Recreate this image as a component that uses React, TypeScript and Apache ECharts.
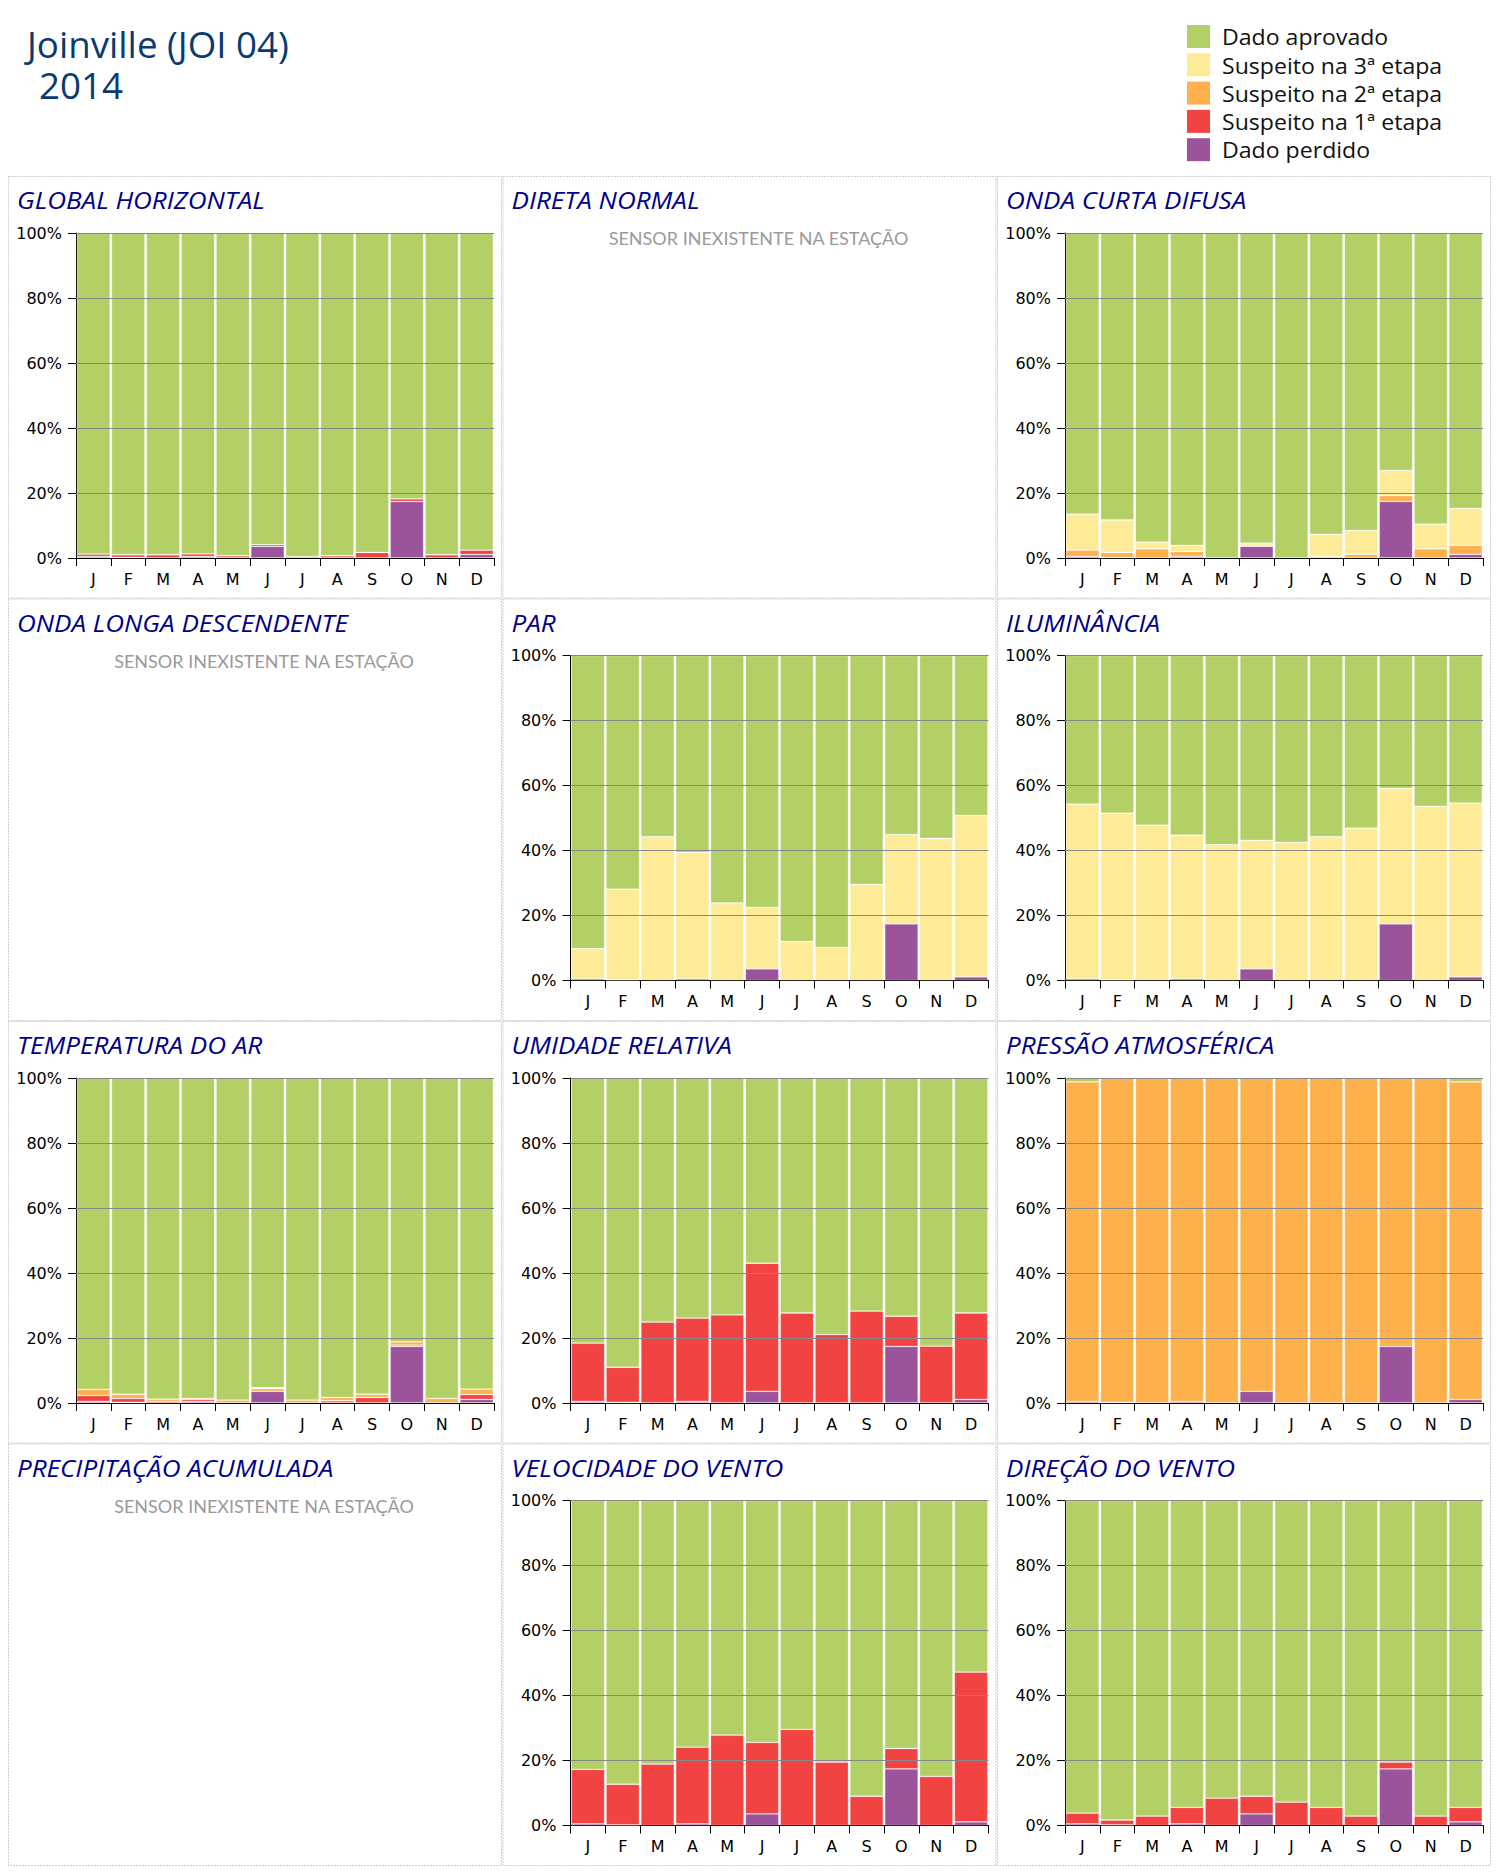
import React, { useEffect, useRef } from "react";
import * as echarts from "echarts";

// ---------- categories / labels ----------
const months = ["J", "F", "M", "A", "M", "J", "J", "A", "S", "O", "N", "D"];
const yTicks = [0, 20, 40, 60, 80, 100];
const seriesNames = [
  "Dado perdido",
  "Suspeito na 1ª etapa",
  "Suspeito na 2ª etapa",
  "Suspeito na 3ª etapa",
  "Dado aprovado",
];
const seriesColors = ["#9b539b", "#f24343", "#feb04d", "#feeb98", "#b2d065"];
const legendOrder = [4, 3, 2, 1, 0];
const mainTitle = "Joinville (JOI 04)";
const yearLabel = "2014";
const noSensorText = "SENSOR INEXISTENTE NA ESTAÇÃO";

// ---------- data (% of month) ----------
const perdido = [0.5, 0.2, 0, 0.5, 0, 3.6, 0, 0, 0, 17.4, 0, 1.1];
const zeros = [0, 0, 0, 0, 0, 0, 0, 0, 0, 0, 0, 0];

const globalS1 = [0.7, 0.8, 1.0, 0.8, 0.7, 0.5, 0.4, 0.7, 1.7, 0.8, 1.0, 1.3];
const globalApr = [98.8, 99.0, 99.0, 98.7, 99.3, 95.9, 99.6, 99.3, 98.3, 81.8, 99.0, 97.6];

const difusaS2 = [1.9, 1.5, 2.8, 1.5, 0, 0.3, 0, 0.5, 1.1, 1.8, 2.8, 2.8];
const difusaS3 = [11.1, 10.0, 2.1, 1.9, 0, 0.7, 0, 6.8, 7.4, 7.7, 7.6, 11.4];
const difusaApr = [86.5, 88.3, 95.1, 96.1, 100, 95.4, 100, 92.7, 91.5, 73.1, 89.6, 84.7];

const parS3 = [9.3, 27.9, 44.3, 38.9, 23.9, 18.9, 12.0, 10.2, 29.6, 27.5, 43.7, 49.7];
const parApr = [90.2, 71.9, 55.7, 60.6, 76.1, 77.5, 88.0, 89.8, 70.4, 55.1, 56.3, 49.2];

const ilumS3 = [53.8, 51.3, 47.8, 44.2, 41.8, 39.5, 42.5, 44.3, 46.9, 41.7, 53.6, 53.5];
const ilumApr = [45.7, 48.5, 52.2, 55.3, 58.2, 56.9, 57.5, 55.7, 53.1, 40.9, 46.4, 45.4];

const tempS1 = [1.8, 1.2, 0.5, 0.6, 0, 0, 0, 0.7, 1.7, 0.4, 0, 1.5];
const tempS2 = [1.9, 1.3, 0.7, 0.3, 0.9, 0.8, 0.9, 1.0, 1.0, 1.0, 1.4, 1.7];
const tempS3 = [0, 0, 0, 0, 0, 0.3, 0, 0, 0, 0, 0, 0];
const tempApr = [95.8, 97.3, 98.8, 98.6, 99.1, 95.3, 99.1, 98.3, 97.3, 81.2, 98.6, 95.7];

const umidS1 = [17.9, 10.8, 24.9, 25.6, 27.1, 39.4, 27.7, 21.1, 28.3, 9.3, 17.5, 26.6];
const umidApr = [81.6, 89.0, 75.1, 73.9, 72.9, 57.0, 72.3, 78.9, 71.7, 73.3, 82.5, 72.3];

const pressS2 = [98.3, 99.8, 100, 99.5, 100, 96.4, 100, 100, 100, 82.6, 100, 97.7];
const pressApr = [1.2, 0, 0, 0, 0, 0, 0, 0, 0, 0, 0, 1.2];

const velS1 = [16.8, 12.5, 18.9, 23.6, 27.8, 22.0, 29.6, 19.5, 9.0, 6.3, 15.1, 46.1];
const velApr = [82.7, 87.3, 81.1, 75.9, 72.2, 74.4, 70.4, 80.5, 91.0, 76.3, 84.9, 52.8];

const dirS1 = [3.3, 1.5, 2.9, 5.1, 8.4, 5.4, 7.2, 5.6, 2.9, 2.1, 2.9, 4.5];
const dirApr = [96.2, 98.3, 97.1, 94.4, 91.6, 91.0, 92.8, 94.4, 97.1, 80.5, 97.1, 94.4];

type Panel = { title: string; row: number; col: number; stacks: number[][] | null };

// stacks order: perdido, 1ª, 2ª, 3ª, aprovado
const panels: Panel[] = [
  { title: "GLOBAL HORIZONTAL", row: 0, col: 0, stacks: [perdido, globalS1, zeros, zeros, globalApr] },
  { title: "DIRETA NORMAL", row: 0, col: 1, stacks: null },
  { title: "ONDA CURTA DIFUSA", row: 0, col: 2, stacks: [perdido, zeros, difusaS2, difusaS3, difusaApr] },
  { title: "ONDA LONGA DESCENDENTE", row: 1, col: 0, stacks: null },
  { title: "PAR", row: 1, col: 1, stacks: [perdido, zeros, zeros, parS3, parApr] },
  { title: "ILUMINÂNCIA", row: 1, col: 2, stacks: [perdido, zeros, zeros, ilumS3, ilumApr] },
  { title: "TEMPERATURA DO AR", row: 2, col: 0, stacks: [perdido, tempS1, tempS2, tempS3, tempApr] },
  { title: "UMIDADE RELATIVA", row: 2, col: 1, stacks: [perdido, umidS1, zeros, zeros, umidApr] },
  { title: "PRESSÃO ATMOSFÉRICA", row: 2, col: 2, stacks: [perdido, zeros, pressS2, zeros, pressApr] },
  { title: "PRECIPITAÇÃO ACUMULADA", row: 3, col: 0, stacks: null },
  { title: "VELOCIDADE DO VENTO", row: 3, col: 1, stacks: [perdido, velS1, zeros, zeros, velApr] },
  { title: "DIREÇÃO DO VENTO", row: 3, col: 2, stacks: [perdido, dirS1, zeros, zeros, dirApr] },
];

// ---------- layout ----------
const W = 1500;
const H = 1874;
const PANEL_X = [8, 502.5, 997];
const PANEL_Y = [176, 598.5, 1021, 1443.5];
const PANEL_W = 493;
const PANEL_H = 421.5;
const GRID_DX = 68;
const GRID_DY = 57;
const GRID_W = 418;
const GRID_H = 325;
const TITLE_FONT = "Open Sans";
const AXIS_FONT = "DejaVu Sans";

function buildOption() {
  const grid: any[] = [];
  const xAxis: any[] = [];
  const yAxis: any[] = [];
  const series: any[] = [];
  const graphic: any[] = [];

  // main title
  graphic.push({
    type: "text",
    x: 27,
    y: 44,
    scaleX: 1.02,
    style: {
      text: mainTitle,
      fontSize: 36,
      fontFamily: TITLE_FONT,
      fill: "#0a3a70",
      textVerticalAlign: "middle",
      verticalAlign: "middle",
    },
  });
  graphic.push({
    type: "text",
    x: 39,
    y: 85.5,
    scaleX: 1.02,
    style: {
      text: yearLabel,
      fontSize: 36,
      fontFamily: TITLE_FONT,
      fill: "#0a3a70",
      textVerticalAlign: "middle",
      verticalAlign: "middle",
    },
  });

  // legend
  legendOrder.forEach((si, i) => {
    const y = 25 + i * 28.3;
    graphic.push({
      type: "rect",
      shape: { x: 1187, y, width: 23, height: 23 },
      style: { fill: seriesColors[si] },
    });
    graphic.push({
      type: "text",
      x: 1222,
      y: y + 12,
      scaleX: 1.05,
      style: {
        text: seriesNames[si],
        fontSize: 22,
        fontFamily: TITLE_FONT,
        fill: "#111111",
        textVerticalAlign: "middle",
        verticalAlign: "middle",
      },
    });
  });

  let gi = 0;
  panels.forEach((p) => {
    const px = PANEL_X[p.col];
    const py = PANEL_Y[p.row];
    graphic.push({
      type: "rect",
      shape: { x: px + 0.5, y: py + 0.5, width: PANEL_W, height: PANEL_H },
      style: { fill: "none", stroke: "#cfcfcf", lineWidth: 1, lineDash: [2, 1] },
      z: -1,
    });
    graphic.push({
      type: "text",
      x: px + 9,
      y: py + 23.5,
      scaleX: 1.085,
      style: {
        text: p.title,
        fontSize: 24,
        fontFamily: TITLE_FONT,
        fontStyle: "italic",
        fill: "#00008a",
        textVerticalAlign: "middle",
        verticalAlign: "middle",
      },
    });
    if (!p.stacks) {
      graphic.push({
        type: "text",
        x: px + 256,
        y: py + 62,
        style: {
          text: noSensorText,
          fontSize: 18,
          fontFamily: "Lato",
          fill: "#9a9a9a",
          textAlign: "center",
          align: "center",
          textVerticalAlign: "middle",
          verticalAlign: "middle",
        },
      });
      return;
    }
    grid.push({
      left: px + GRID_DX,
      top: py + GRID_DY,
      width: GRID_W,
      height: GRID_H,
      containLabel: false,
    });
    xAxis.push({
      type: "category",
      gridIndex: gi,
      data: months,
      boundaryGap: true,
      axisLine: { show: true, lineStyle: { color: "#000", width: 1 } },
      axisTick: { show: true, length: 8, alignWithLabel: false, lineStyle: { color: "#000" } },
      axisLabel: { interval: 0, color: "#000", fontSize: 16, fontFamily: AXIS_FONT, margin: 13 },
      splitLine: { show: false },
    });
    yAxis.push({
      type: "value",
      gridIndex: gi,
      min: 0,
      max: 100,
      interval: 20,
      axisLine: { show: true, lineStyle: { color: "#000", width: 1 } },
      axisTick: { show: true, length: 8, lineStyle: { color: "#000" } },
      axisLabel: {
        color: "#000",
        fontSize: 16,
        fontFamily: AXIS_FONT,
        margin: 14,
        formatter: "{value}%",
      },
      splitLine: { show: false },
    });
    p.stacks.forEach((vals, si) => {
      const s: any = {
        type: "bar",
        name: seriesNames[si],
        xAxisIndex: gi,
        yAxisIndex: gi,
        stack: "panel" + gi,
        barCategoryGap: "4%",
        data: vals.map((v) => (v === 0 ? null : v)),
        itemStyle: {
          color: seriesColors[si],
          borderColor: "rgba(255,255,255,0.3)",
          borderWidth: 0.8,
        },
        silent: true,
      };
      if (si === p.stacks!.length - 1) {
        s.markLine = {
          silent: true,
          symbol: ["none", "none"],
          label: { show: false },
          lineStyle: { color: "#888", width: 1, type: "solid" },
          data: yTicks.filter((t) => t > 0).map((t) => ({ yAxis: t })),
          z: 5,
        };
      }
      series.push(s);
    });
    gi++;
  });

  return {
    animation: false,
    backgroundColor: "#ffffff",
    grid,
    xAxis,
    yAxis,
    series,
    graphic,
  };
}

export default function App() {
  const ref = useRef<HTMLDivElement>(null);
  useEffect(() => {
    document.body.style.margin = "0";
    if (!ref.current) return;
    const chart = echarts.init(ref.current, undefined, { renderer: "svg" });
    chart.setOption(buildOption() as any);
    return () => chart.dispose();
  }, []);
  return <div ref={ref} style={{ width: W, height: H }} />;
}
